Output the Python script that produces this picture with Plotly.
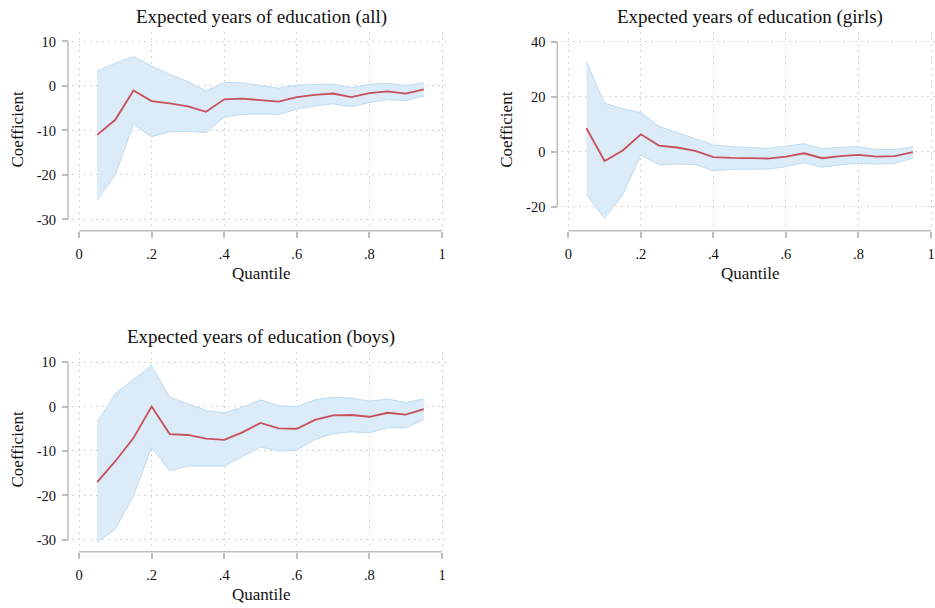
import plotly.graph_objects as go

W, H = 935, 608

quantiles = [0.05, 0.10, 0.15, 0.20, 0.25, 0.30, 0.35, 0.40, 0.45, 0.50,
             0.55, 0.60, 0.65, 0.70, 0.75, 0.80, 0.85, 0.90, 0.95]

# Expected years of education (all)
all_coef = [-11.0, -7.6, -1.0, -3.4, -3.9, -4.6, -5.8, -3.0, -2.85, -3.1,
            -3.5, -2.5, -2.0, -1.7, -2.5, -1.6, -1.2, -1.7, -0.75]
all_upper = [3.4, 5.1, 6.6, 4.5, 2.6, 1.0, -1.1, 0.8, 0.7, 0.1,
             -0.5, 0.2, 0.4, 0.45, -0.4, 0.4, 0.6, 0.1, 0.75]
all_lower = [-25.6, -20.0, -8.6, -11.4, -10.3, -10.2, -10.5, -7.0, -6.4, -6.3,
             -6.4, -5.2, -4.5, -4.0, -4.7, -3.7, -3.1, -3.3, -2.25]

# Expected years of education (girls)
girls_coef = [8.5, -3.4, 0.4, 6.3, 2.2, 1.5, 0.25, -2.0, -2.3, -2.4,
              -2.5, -1.8, -0.6, -2.4, -1.6, -1.2, -1.8, -1.6, -0.2]
girls_upper = [32.7, 17.6, 15.6, 14.2, 9.2, 6.9, 4.7, 2.4, 1.8, 1.6,
               1.2, 2.0, 2.9, 1.1, 1.6, 1.8, 0.8, 0.8, 1.8]
girls_lower = [-15.7, -24.2, -15.7, -1.2, -4.8, -4.5, -4.7, -6.9, -6.5, -6.4,
               -6.3, -5.5, -4.0, -5.7, -4.8, -4.2, -4.6, -4.2, -2.4]

# Expected years of education (boys)
boys_coef = [-17.0, -12.3, -7.1, 0.0, -6.2, -6.4, -7.2, -7.5, -5.8, -3.7,
             -4.9, -5.0, -3.0, -2.0, -1.9, -2.3, -1.4, -1.8, -0.6]
boys_upper = [-3.6, 2.9, 6.1, 9.2, 2.1, 0.6, -0.9, -1.4, -0.15, 1.5,
              0.2, 0.0, 1.5, 2.1, 1.9, 1.2, 1.7, 0.9, 1.75]
boys_lower = [-30.5, -27.6, -20.1, -9.2, -14.5, -13.4, -13.4, -13.4, -11.3, -9.1,
              -10.0, -9.8, -7.4, -6.1, -5.7, -5.9, -4.8, -4.8, -2.95]

x_ticks = [0, 0.2, 0.4, 0.6, 0.8, 1]
x_ticktext = ["0", ".2", ".4", ".6", ".8", "1"]
y_ticks_a = [-30, -20, -10, 0, 10]
y_ticktext_a = ["-30", "-20", "-10", "0", "10"]
y_ticks_g = [-20, 0, 20, 40]
y_ticktext_g = ["-20", "0", "20", "40"]

titles = ["Expected years of education (all)",
          "Expected years of education (girls)",
          "Expected years of education (boys)"]

FONT = "Liberation Serif, Times New Roman, serif"
FILL = "rgba(220,235,248,1)"
EDGE = "rgba(190,220,242,1)"
RED = "rgb(200,80,92)"
AXC = "#bdbdbd"
GRID = "#d4d4d4"
TXT = "#111111"

# panel geometry in pixels
panels = [
    dict(series=(all_coef, all_upper, all_lower), title=titles[0],
         xpix=(72, 450), ypix=(32, 227), x0=79, x1=442, yaxis_px=68, xaxis_py=230.7,
         yr=(-31.7, 12.13), yt=(y_ticks_a, y_ticktext_a), yline=(-30, 10)),
    dict(series=(girls_coef, girls_upper, girls_lower), title=titles[1],
         xpix=(561.3, 935), ypix=(32, 227), x0=568.3, x1=931, yaxis_px=557.3, xaxis_py=230.7,
         yr=(-27.4, 43.5), yt=(y_ticks_g, y_ticktext_g), yline=(-20, 40)),
    dict(series=(boys_coef, boys_upper, boys_lower), title=titles[2],
         xpix=(72, 450), ypix=(352, 547), x0=79, x1=442, yaxis_px=68, xaxis_py=551.7,
         yr=(-31.6, 12.27), yt=(y_ticks_a, y_ticktext_a), yline=(-30, 10)),
]

fig = go.Figure()
layout = dict(width=W, height=H, margin=dict(l=0, r=0, t=0, b=0),
              paper_bgcolor="white", plot_bgcolor="white", showlegend=False,
              font=dict(family=FONT, color=TXT))
shapes = []
annotations = []

for i, p in enumerate(panels):
    n = "" if i == 0 else str(i + 1)
    xa, ya = "x" + n, "y" + n
    coef, up, lo = p["series"]
    fig.add_trace(go.Scatter(x=quantiles, y=up, mode="lines",
                             line=dict(color=EDGE, width=1), xaxis=xa, yaxis=ya,
                             hoverinfo="skip"))
    fig.add_trace(go.Scatter(x=quantiles, y=lo, mode="lines", fill="tonexty",
                             fillcolor=FILL, line=dict(color=EDGE, width=1),
                             xaxis=xa, yaxis=ya, hoverinfo="skip"))
    fig.add_trace(go.Scatter(x=quantiles, y=coef, mode="lines",
                             line=dict(color=RED, width=1.8), xaxis=xa, yaxis=ya))

    px0, px1 = p["xpix"]
    scale = (p["x1"] - p["x0"])  # px per unit
    xr = ((px0 - p["x0"]) / scale, (px1 - p["x0"]) / scale)
    py0, py1 = p["ypix"]

    layout["xaxis" + n] = dict(
        domain=[px0 / W, min(px1 / W, 1)], range=list(xr), anchor="free",
        position=1 - p["xaxis_py"] / H,
        tickvals=x_ticks, ticktext=x_ticktext, ticks="outside", ticklen=6,
        tickwidth=1.5, tickcolor=AXC, ticklabelstandoff=4,
        tickfont=dict(size=14.5, family=FONT, color=TXT),
        showgrid=True, gridcolor=GRID, gridwidth=1, griddash="2px,4px",
        showline=False, zeroline=False, fixedrange=True)
    layout["yaxis" + n] = dict(
        domain=[1 - py1 / H, 1 - py0 / H], range=list(p["yr"]), anchor="free",
        position=p["yaxis_px"] / W,
        tickvals=p["yt"][0], ticktext=p["yt"][1], ticks="outside", ticklen=6,
        tickwidth=1.5, tickcolor=AXC, ticklabelstandoff=3,
        tickfont=dict(size=14.5, family=FONT, color=TXT),
        showgrid=True, gridcolor=GRID, gridwidth=1, griddash="2px,4px",
        showline=False, zeroline=False, fixedrange=True)

    # offset axis lines (Stata style)
    shapes.append(dict(type="line", xref=xa, yref="paper", x0=0, x1=1,
                       y0=1 - p["xaxis_py"] / H, y1=1 - p["xaxis_py"] / H,
                       line=dict(color=AXC, width=1.5), layer="above"))
    shapes.append(dict(type="line", xref="paper", yref=ya,
                       x0=p["yaxis_px"] / W, x1=p["yaxis_px"] / W,
                       y0=p["yline"][0], y1=p["yline"][1],
                       line=dict(color=AXC, width=1.5), layer="above"))

    cx = (px0 + (px1 if i != 1 else 939)) / 2
    annotations.append(dict(text=p["title"], xref="paper", yref="paper",
                            x=cx / W, y=1 - (py0 - 15) / H, xanchor="center",
                            yanchor="middle", showarrow=False,
                            font=dict(size=19, family=FONT, color=TXT)))
    annotations.append(dict(text="Quantile", xref="paper", yref="paper",
                            x=cx / W, y=1 - (p["xaxis_py"] + 42.5) / H,
                            xanchor="center", yanchor="middle", showarrow=False,
                            font=dict(size=17, family=FONT, color=TXT)))
    annotations.append(dict(text="Coefficient", xref="paper", yref="paper",
                            x=(p["yaxis_px"] - 51) / W, y=1 - ((py0 + py1) / 2) / H,
                            xanchor="center", yanchor="middle", textangle=-90,
                            showarrow=False,
                            font=dict(size=17, family=FONT, color=TXT)))

layout["shapes"] = shapes
layout["annotations"] = annotations
fig.update_layout(**layout)
fig.write_html("out.html", config={"displayModeBar": False},
               post_script="document.body.style.margin='0';document.body.style.overflow='hidden';")
